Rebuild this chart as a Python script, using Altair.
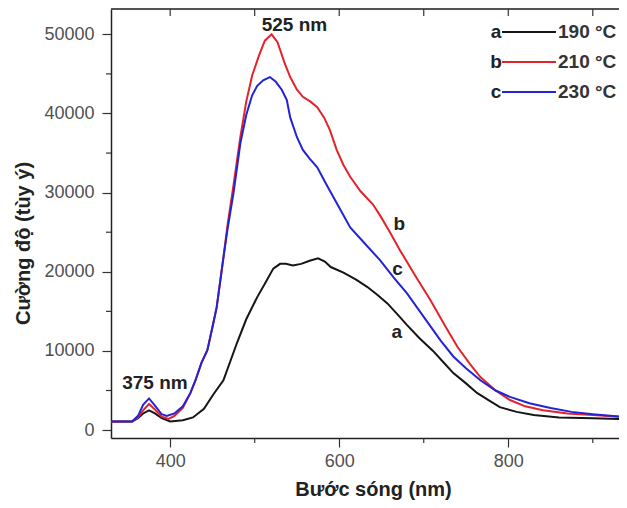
import altair as alt
import pandas as pd

# ---------------- data ----------------
wl_a = [330, 355, 362, 368, 375, 382, 390, 400, 415, 427, 440, 451, 463, 479, 490, 503, 512, 522, 530, 537,
        545, 555, 565, 575, 583, 590, 605, 620, 633, 645, 657, 670, 680, 695, 711, 723, 735, 750, 763, 778,
        790, 810, 830, 860, 900, 931]
int_a = [1100, 1100, 1500, 2100, 2500, 2100, 1500, 1100, 1250, 1600, 2700, 4500, 6300, 11000, 14000, 16800, 18500, 20400, 21000, 21000,
         20800, 21000, 21400, 21700, 21300, 20600, 19900, 19000, 18100, 17100, 16000, 14500, 13300, 11600, 10000, 8600, 7200, 5900, 4700, 3700,
         2900, 2300, 1900, 1600, 1500, 1400]

wl_b = [330, 355, 362, 368, 375, 382, 390, 398, 405, 415, 424, 430, 437, 444, 450, 455, 462, 468, 475, 483,
        490, 497, 505, 512, 520, 527, 535, 542, 550, 557, 566, 574, 582, 589, 597, 605, 613, 625, 640, 649,
        660, 672, 690, 708, 725, 740, 755, 767, 785, 802, 820, 841, 870, 900, 931]
int_b = [1050, 1100, 1600, 2500, 3300, 2600, 1700, 1400, 1800, 2800, 4700, 6300, 8500, 10100, 13000, 15500, 21000, 26000, 31000, 37000,
         41500, 44800, 47300, 49200, 50000, 49000, 46500, 44600, 43000, 42100, 41500, 40800, 39500, 37900, 35400, 33500, 32000, 30200, 28500, 27000,
         25000, 22700, 19500, 16400, 13200, 10500, 8300, 6700, 5000, 3800, 3000, 2500, 2100, 1900, 1700]

wl_c = [330, 355, 362, 368, 375, 382, 390, 396, 405, 415, 424, 430, 437, 444, 450, 455, 462, 468, 475, 483,
        490, 497, 503, 510, 518, 525, 532, 538, 542, 550, 557, 565, 574, 585, 597, 613, 630, 648, 665, 680,
        700, 720, 735, 750, 767, 785, 802, 825, 850, 875, 900, 931]
int_c = [1100, 1100, 1800, 3200, 4000, 3100, 2000, 1800, 2100, 3000, 4700, 6300, 8500, 10100, 13000, 15500, 21000, 25500, 30000, 36200,
         39800, 42300, 43500, 44200, 44600, 44000, 43000, 41700, 39500, 37000, 35400, 34300, 33200, 31000, 28700, 25600, 23600, 21500, 19200, 17300,
         14300, 11300, 9300, 7800, 6300, 5000, 4200, 3400, 2800, 2300, 2000, 1700]

series_keys = ["a", "b", "c"]
series_labels = ["190 °C", "210 °C", "230 °C"]
series_colors = ["#151515", "#e3232b", "#2323d6"]

ann_text = ["525 nm", "375 nm", "a", "b", "c"]
ann_x = [547, 382, 668, 671, 669]
ann_y = [51150, 5900, 12400, 26000, 20300]

x_major = [400, 600, 800]
x_minor = [500, 700, 900]
x_top = [400, 500, 600, 700, 800, 900]
y_major = [0, 10000, 20000, 30000, 40000, 50000]
y_minor = [5000, 15000, 25000, 35000, 45000]

X_DOMAIN = [330, 931]
Y_DOMAIN = [-1000, 53200]

# ---------------- build ----------------
rows = []
for key, wls, vals in [("a", wl_a, int_a), ("b", wl_b, int_b), ("c", wl_c, int_c)]:
    for w, v in zip(wls, vals):
        rows.append({"series": key, "wl": w, "val": v})
df = pd.DataFrame(rows)

W, H = 508, 429
xs = alt.Scale(domain=X_DOMAIN, nice=False, zero=False)
ys = alt.Scale(domain=Y_DOMAIN, nice=False, zero=False)

FONT = "Liberation Sans"
TICK = "#333"

lines = alt.Chart(df).mark_line(strokeWidth=2, clip=True).encode(
    x=alt.X("wl:Q", scale=xs, title="Bước sóng (nm)",
            axis=alt.Axis(values=x_major, format="d", tickSize=9, labelPadding=5,
                          titleX=262, titleY=51, titleBaseline="middle", titleAlign="center")),
    y=alt.Y("val:Q", scale=ys, title="Cường độ (tùy ý)",
            axis=alt.Axis(values=y_major, format="d", tickSize=9, labelPadding=8,
                          titleX=-88, titleY=234, titleBaseline="middle", titleAlign="center")),
    color=alt.Color("series:N", scale=alt.Scale(domain=series_keys, range=series_colors), legend=None),
    detail="series:N",
)

ann_df = pd.DataFrame({"t": ann_text, "x": ann_x, "y": ann_y})
ann = alt.Chart(ann_df).mark_text(font=FONT, fontSize=19, fontWeight="bold", color="#222").encode(
    x=alt.X("x:Q", scale=xs),
    y=alt.Y("y:Q", scale=ys),
    text="t:N",
)

top_df = pd.DataFrame({"t": x_top})
top_ticks = alt.Chart(top_df).mark_rule(color=TICK, strokeWidth=1.2).encode(
    x=alt.X("t:Q", scale=xs),
    y=alt.value(0), y2=alt.value(7),
)
xminor_df = pd.DataFrame({"t": x_minor})
x_minor_ticks = alt.Chart(xminor_df).mark_rule(color=TICK, strokeWidth=1.2).encode(
    x=alt.X("t:Q", scale=xs),
    y=alt.value(H), y2=alt.value(H + 5),
)
yminor_df = pd.DataFrame({"t": y_minor})
y_minor_ticks = alt.Chart(yminor_df).mark_rule(color=TICK, strokeWidth=1.2).encode(
    y=alt.Y("t:Q", scale=ys),
    x=alt.value(-5), x2=alt.value(0),
)
top_frame = alt.Chart(top_df).mark_rule(color="#555", strokeWidth=1.3).encode(
    x=alt.value(0), x2=alt.value(W), y=alt.value(0)
)

layers = [lines, ann, top_frame, top_ticks, x_minor_ticks, y_minor_ticks]

# hand-built legend (letter, short line, label)
for i, (k, lab, col) in enumerate(zip(series_keys, series_labels, series_colors)):
    yy = 23 + 30 * i
    ldf = pd.DataFrame({"k": [k], "lab": [lab]})
    layers.append(alt.Chart(ldf).mark_rule(color=col, strokeWidth=2).encode(
        x=alt.value(391), x2=alt.value(445), y=alt.value(yy)))
    layers.append(alt.Chart(ldf).mark_text(font=FONT, fontSize=19, fontWeight="bold", color="#222",
                                           align="center", baseline="middle").encode(
        x=alt.value(385), y=alt.value(yy), text="k:N"))
    layers.append(alt.Chart(ldf).mark_text(font=FONT, fontSize=19, fontWeight="bold", color="#333",
                                           align="left", baseline="middle").encode(
        x=alt.value(447), y=alt.value(yy), text="lab:N"))

chart = alt.layer(*layers).properties(
    width=W, height=H,
    autosize=alt.AutoSizeParams(type="none"),
    padding={"left": 103, "top": 1, "right": 0, "bottom": 62},
).configure_view(stroke=None).configure_axis(
    labelFont=FONT, labelFontSize=18, labelColor="#505050",
    titleFont=FONT, titleFontSize=20, titleFontWeight="bold", titleColor="#222",
    domainColor="#222", domainWidth=1.5, tickColor=TICK, tickWidth=1.2, grid=False,
)

chart.save("out.html", embed_options={"renderer": "svg", "actions": False})
